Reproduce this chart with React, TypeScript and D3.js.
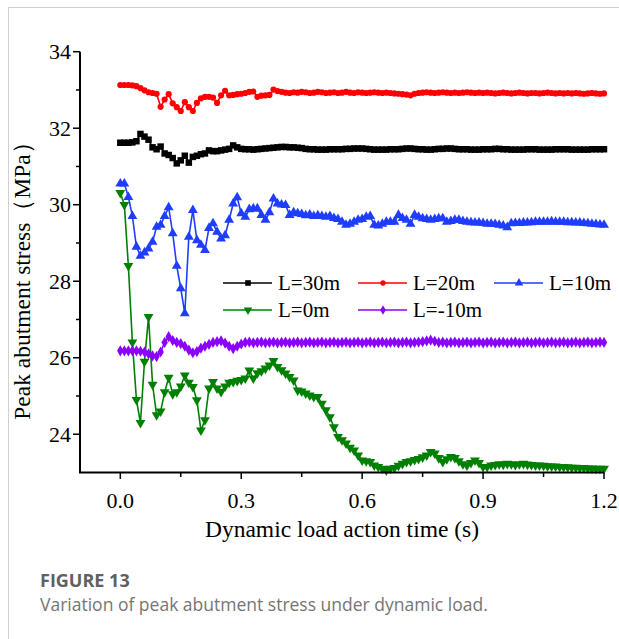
import React from "react";
import * as d3 from "d3";

const timeStep = 0.01;

const seriesNames = ["L=30m", "L=20m", "L=10m", "L=0m", "L=-10m"];

const l30 = [
  31.62, 31.62, 31.62, 31.63, 31.66, 31.85, 31.78, 31.70, 31.50, 31.45,
  31.52, 31.34, 31.30, 31.22, 31.08, 31.16, 31.28, 31.10, 31.25, 31.28,
  31.32, 31.34, 31.42, 31.40, 31.40, 31.42, 31.44, 31.46, 31.55, 31.50,
  31.46, 31.45, 31.45, 31.44, 31.45, 31.46, 31.47, 31.48, 31.49, 31.50,
  31.51, 31.51, 31.50, 31.50, 31.49, 31.48, 31.46, 31.45, 31.45, 31.44,
  31.44, 31.44, 31.45, 31.45, 31.45, 31.45, 31.46, 31.46, 31.47, 31.47,
  31.47, 31.46, 31.45, 31.44, 31.44, 31.44, 31.44, 31.45, 31.45, 31.45,
  31.46, 31.47, 31.47, 31.46, 31.45, 31.45, 31.44, 31.44, 31.45, 31.46,
  31.46, 31.47, 31.47, 31.46, 31.45, 31.45, 31.45, 31.44, 31.44, 31.44,
  31.45, 31.45, 31.45, 31.46, 31.46, 31.45, 31.45, 31.44, 31.44, 31.44,
  31.44, 31.45, 31.45, 31.45, 31.44, 31.44, 31.44, 31.44, 31.45, 31.45,
  31.45, 31.45, 31.44, 31.44, 31.44, 31.44, 31.44, 31.45, 31.45, 31.45, 31.45,
];

const l20 = [
  33.13, 33.13, 33.13, 33.12, 33.10, 33.05, 32.99, 32.94, 32.92, 32.90,
  32.56, 32.75, 32.89, 32.65, 32.55, 32.45, 32.68, 32.55, 32.45, 32.66,
  32.78, 32.82, 32.82, 32.80, 32.66, 32.86, 32.98, 32.86, 32.87, 32.89,
  32.90, 32.92, 32.95, 32.96, 32.82, 32.85, 32.86, 32.87, 33.01, 32.97,
  32.95, 32.93, 32.92, 32.94, 32.93, 32.95, 32.94, 32.92, 32.93, 32.95,
  32.94, 32.92, 32.93, 32.94, 32.92, 32.93, 32.95, 32.93, 32.92, 32.94,
  32.93, 32.92, 32.93, 32.94, 32.93, 32.92, 32.93, 32.92, 32.91, 32.90,
  32.89, 32.88, 32.86, 32.90, 32.92, 32.93, 32.94, 32.93, 32.92, 32.93,
  32.94, 32.93, 32.92, 32.93, 32.92, 32.93, 32.94, 32.93, 32.92, 32.93,
  32.92, 32.93, 32.92, 32.91, 32.92, 32.93, 32.92, 32.91, 32.92, 32.93,
  32.92, 32.91, 32.92, 32.92, 32.91, 32.92, 32.93, 32.92, 32.91, 32.92,
  32.91, 32.92, 32.91, 32.92, 32.91, 32.90, 32.91, 32.92, 32.91, 32.90, 32.91,
];

const l10 = [
  30.55, 30.55, 30.20, 29.70, 28.90, 28.66, 28.75, 28.85, 29.03, 29.42,
  29.47, 29.70, 29.93, 29.25, 28.40, 27.81, 27.16, 29.16, 29.86, 29.07,
  28.95, 28.81, 29.39, 29.51, 29.29, 29.11, 29.20, 29.60, 30.03, 30.19,
  29.77, 29.68, 29.88, 29.90, 29.90, 29.73, 29.60, 29.80, 30.16, 30.03,
  30.00, 29.99, 29.73, 29.80, 29.77, 29.75, 29.72, 29.74, 29.70, 29.72,
  29.70, 29.68, 29.70, 29.65, 29.62, 29.55, 29.47, 29.50, 29.55, 29.60,
  29.62, 29.68, 29.70, 29.47, 29.45, 29.50, 29.55, 29.55, 29.55, 29.73,
  29.65, 29.60, 29.50, 29.73, 29.68, 29.64, 29.62, 29.60, 29.62, 29.64,
  29.64, 29.55, 29.57, 29.60, 29.60, 29.57, 29.55, 29.54, 29.53, 29.53,
  29.52, 29.50, 29.50, 29.49, 29.47, 29.45, 29.41, 29.51, 29.52, 29.52,
  29.53, 29.53, 29.54, 29.55, 29.55, 29.55, 29.55, 29.56, 29.55, 29.55,
  29.55, 29.54, 29.54, 29.53, 29.53, 29.52, 29.51, 29.50, 29.49, 29.48, 29.47,
];

const l0 = [
  30.31, 30.00, 28.40, 26.40, 24.90, 24.30, 25.90, 27.07, 25.30, 24.50,
  24.60, 25.10, 25.48, 25.05, 25.10, 25.25, 25.54, 25.35, 25.24, 24.89,
  24.10, 24.37, 25.20, 25.37, 25.20, 25.11, 25.25, 25.35, 25.37, 25.40,
  25.42, 25.46, 25.67, 25.46, 25.60, 25.65, 25.72, 25.80, 25.92, 25.76,
  25.68, 25.59, 25.50, 25.41, 25.15, 25.12, 25.07, 25.02, 24.98, 24.98,
  24.80, 24.63, 24.45, 24.19, 23.93, 23.85, 23.76, 23.65, 23.58, 23.45,
  23.32, 23.30, 23.28, 23.19, 23.15, 23.10, 23.06, 23.10, 23.12, 23.18,
  23.23, 23.28, 23.30, 23.33, 23.36, 23.40, 23.45, 23.54, 23.50, 23.38,
  23.28, 23.35, 23.41, 23.38, 23.30, 23.22, 23.19, 23.25, 23.32, 23.25,
  23.15, 23.15, 23.19, 23.20, 23.22, 23.21, 23.23, 23.22, 23.20, 23.22,
  23.23, 23.21, 23.20, 23.19, 23.19, 23.18, 23.17, 23.16, 23.16, 23.15,
  23.15, 23.14, 23.13, 23.13, 23.12, 23.12, 23.11, 23.11, 23.10, 23.10, 23.10,
];

const lm10 = [
  26.18, 26.18, 26.18, 26.18, 26.18, 26.17, 26.15, 26.10, 26.05, 26.03,
  26.15, 26.40, 26.55, 26.45, 26.40, 26.37, 26.30, 26.20, 26.13, 26.16,
  26.25, 26.30, 26.35, 26.40, 26.42, 26.44, 26.38, 26.30, 26.24, 26.30,
  26.36, 26.40, 26.41, 26.39, 26.40, 26.41, 26.39, 26.40, 26.41, 26.39,
  26.40, 26.41, 26.39, 26.40, 26.41, 26.39, 26.40, 26.41, 26.39, 26.40,
  26.41, 26.39, 26.40, 26.41, 26.39, 26.40, 26.41, 26.39, 26.40, 26.41,
  26.39, 26.40, 26.41, 26.39, 26.40, 26.41, 26.39, 26.40, 26.41, 26.39,
  26.40, 26.41, 26.39, 26.40, 26.41, 26.42, 26.44, 26.46, 26.43, 26.40,
  26.41, 26.39, 26.40, 26.41, 26.39, 26.40, 26.41, 26.39, 26.40, 26.41,
  26.39, 26.40, 26.41, 26.39, 26.40, 26.41, 26.39, 26.40, 26.41, 26.39,
  26.40, 26.41, 26.39, 26.40, 26.41, 26.39, 26.40, 26.41, 26.39, 26.40,
  26.41, 26.39, 26.40, 26.41, 26.39, 26.40, 26.41, 26.39, 26.40, 26.41, 26.40,
];

const xTicks = [0, 0.3, 0.6, 0.9, 1.2];
const xMinorTicks = [0.15, 0.45, 0.75, 1.05];
const yTicks = [24, 26, 28, 30, 32, 34];
const yMinorTicks = [25, 27, 29, 31, 33];

const colors = ["#000000", "#ff0000", "#1f3dff", "#008000", "#8a00ff"];
const symbols = [d3.symbolSquare, d3.symbolCircle, d3.symbolTriangle, d3.symbolTriangle, d3.symbolDiamond];
const symbolSizes = [42, 30, 42, 42, 36];
const symbolRot = [0, 0, 0, 180, 0];

const W = 619;
const H = 639;
const serif = "'Times New Roman', 'Liberation Serif', serif";
const sans = "'Open Sans', 'Noto Sans', sans-serif";

export default function App() {
  const x = d3.scaleLinear().domain([-0.1, 1.2]).range([80, 604]);
  const y = d3.scaleLinear().domain([23, 34]).range([472.5, 51.7]);
  const allSeries = [l30, l20, l10, l0, lm10];
  const line = d3
    .line<number>()
    .x((_, i) => x(i * timeStep))
    .y((d) => y(d));

  const legendItems = [
    { s: 0, lx: 223, ly: 283 },
    { s: 1, lx: 358, ly: 283 },
    { s: 2, lx: 494, ly: 283 },
    { s: 3, lx: 223, ly: 310 },
    { s: 4, lx: 358, ly: 310 },
  ];

  const sym = (k: number, scale = 1) =>
    d3.symbol().type(symbols[k]).size(symbolSizes[k] * scale)() as string;

  return (
    <svg
      width={W}
      height={H}
      style={{ position: "absolute", left: 0, top: 0, background: "#fff" }}
    >
      <rect x={8.5} y={7.5} width={700} height={700} fill="#fff" stroke="#d0d0d0" strokeWidth={1} />

      {allSeries.map((vals, k) => (
        <g key={k}>
          <path d={line(vals) as string} fill="none" stroke={colors[k]} strokeWidth={1.6} />
          {vals.map((v, i) => (
            <path
              key={i}
              d={sym(k)}
              transform={`translate(${x(i * timeStep)},${y(v)}) rotate(${symbolRot[k]})`}
              fill={colors[k]}
            />
          ))}
        </g>
      ))}

      {/* axes */}
      <line x1={80} x2={80} y1={y(34)} y2={472.5} stroke="#000" strokeWidth={2} />
      <line x1={79} x2={604} y1={472.5} y2={472.5} stroke="#000" strokeWidth={2} />
      {yTicks.map((t) => (
        <g key={t}>
          <line x1={73} x2={80} y1={y(t)} y2={y(t)} stroke="#000" strokeWidth={1.5} />
          <text x={71} y={y(t)} dy="0.35em" textAnchor="end" fontFamily={serif} fontSize={22}>
            {t}
          </text>
        </g>
      ))}
      {yMinorTicks.map((t) => (
        <line key={t} x1={76} x2={80} y1={y(t)} y2={y(t)} stroke="#000" strokeWidth={1.5} />
      ))}
      {xTicks.map((t) => (
        <g key={t}>
          <line x1={x(t)} x2={x(t)} y1={472.5} y2={479} stroke="#000" strokeWidth={1.5} />
          <text x={x(t)} y={508} textAnchor="middle" fontFamily={serif} fontSize={22}>
            {t.toFixed(1)}
          </text>
        </g>
      ))}
      {xMinorTicks.map((t) => (
        <line key={t} x1={x(t)} x2={x(t)} y1={472.5} y2={477} stroke="#000" strokeWidth={1.5} />
      ))}

      <text x={342} y={537} textAnchor="middle" fontFamily={serif} fontSize={23.5}>
        Dynamic load action time (s)
      </text>
      <text
        transform="translate(30,275) rotate(-90)"
        textAnchor="middle"
        fontFamily={serif}
        fontSize={23.5}
      >
        Peak abutment stress（MPa）
      </text>

      {/* legend */}
      {legendItems.map(({ s, lx, ly }) => (
        <g key={s}>
          <line x1={lx} x2={lx + 49} y1={ly} y2={ly} stroke={colors[s]} strokeWidth={1.6} />
          <path
            d={sym(s, 0.75)}
            transform={`translate(${lx + 25},${ly}) rotate(${symbolRot[s]})`}
            fill={colors[s]}
          />
          <text x={lx + 55} y={ly + 7} fontFamily={serif} fontSize={21}>
            {seriesNames[s]}
          </text>
        </g>
      ))}

      <text x={40} y={587} fontFamily={sans} fontSize={18} fontWeight={700} fill="#606060">
        FIGURE 13
      </text>
      <text x={40} y={611} fontFamily={sans} fontSize={17.5} fill="#757575">
        Variation of peak abutment stress under dynamic load.
      </text>
    </svg>
  );
}
